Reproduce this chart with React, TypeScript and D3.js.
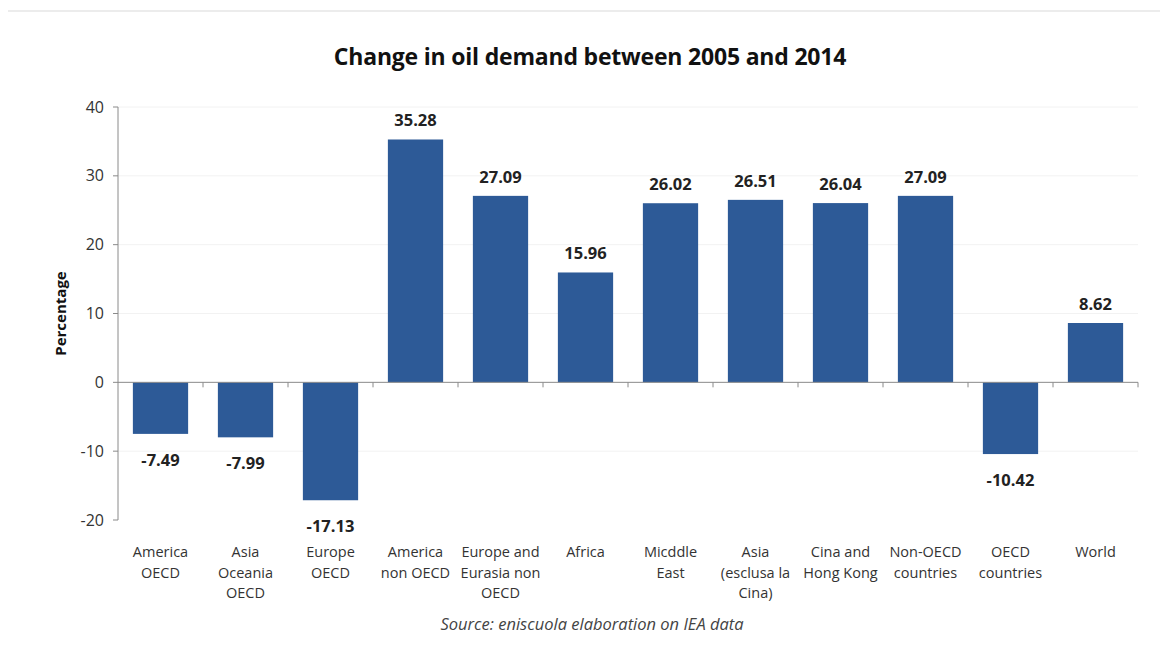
import React from "react";
import * as d3 from "d3";

const categories: string[] = [
  "America\nOECD",
  "Asia\nOceania\nOECD",
  "Europe\nOECD",
  "America\nnon OECD",
  "Europe and\nEurasia non\nOECD",
  "Africa",
  "Micddle\nEast",
  "Asia\n(esclusa la\nCina)",
  "Cina and\nHong Kong",
  "Non-OECD\ncountries",
  "OECD\ncountries",
  "World",
];
const values: number[] = [-7.49, -7.99, -17.13, 35.28, 27.09, 15.96, 26.02, 26.51, 26.04, 27.09, -10.42, 8.62];
const yTicks: number[] = [40, 30, 20, 10, 0, -10, -20];
const title = "Change in oil demand between 2005 and 2014";
const yLabel = "Percentage";
const source = "Source: eniscuola elaboration on IEA data";

const W = 1162;
const H = 657;
const FONT = "'Open Sans', 'Liberation Sans', sans-serif";

export default function App() {
  const x = d3
    .scaleBand<number>()
    .domain(d3.range(categories.length))
    .range([118, 1138])
    .paddingInner(0.35)
    .paddingOuter(0.175);
  const y = d3.scaleLinear().domain([-20, 40]).range([520, 107]);
  const bandStep = x.step();
  const left = 118;

  return (
    <svg
      width={W}
      height={H}
      style={{ position: "absolute", left: 0, top: 0, background: "#fff" }}
      fontFamily={FONT}
    >
      <rect x={0} y={0} width={W} height={H} fill="#fff" />
      <line x1={8} x2={1160} y1={11} y2={11} stroke="#ececec" strokeWidth={2} />
      {/* gridlines */}
      {yTicks.filter((t) => t !== 0 && t !== -20).map((t) => (
        <line key={"g" + t} x1={left} x2={1138} y1={y(t)} y2={y(t)} stroke="#f2f2f2" strokeWidth={1} />
      ))}
      <text x={590} y={65} textAnchor="middle" fontSize={23} fontWeight="bold" fill="#111" letterSpacing={-0.2}>
        {title}
      </text>
      {/* y axis */}
      <line x1={left} x2={left} y1={y(40)} y2={y(-20)} stroke="#8a8a8a" strokeWidth={1} />
      {yTicks.map((t) => (
        <g key={"t" + t}>
          <line x1={left - 5} x2={left} y1={y(t)} y2={y(t)} stroke="#8a8a8a" />
          <text x={left - 14} y={y(t)} dy="0.35em" textAnchor="end" fontSize={16} fill="#333">
            {t}
          </text>
        </g>
      ))}
      <text
        transform={`translate(66, ${(y(40) + y(-20)) / 2}) rotate(-90)`}
        textAnchor="middle"
        fontSize={15}
        fontWeight="bold"
        fill="#111"
      >
        {yLabel}
      </text>
      {/* bars */}
      {values.map((v, i) => (
        <rect
          key={"b" + i}
          x={x(i)!}
          y={Math.min(y(v), y(0))}
          width={x.bandwidth()}
          height={Math.abs(y(v) - y(0))}
          fill="#2d5a97"
        />
      ))}
      {/* zero line */}
      <line x1={left} x2={1138} y1={y(0)} y2={y(0)} stroke="#8a8a8a" strokeWidth={1} />
      {categories.map((_, i) => (
        <line
          key={"zt" + i}
          x1={left + bandStep * (i + 1)}
          x2={left + bandStep * (i + 1)}
          y1={y(0)}
          y2={y(0) + 5}
          stroke="#8a8a8a"
        />
      ))}
      {/* value labels */}
      {values.map((v, i) => (
        <text
          key={"v" + i}
          x={x(i)! + x.bandwidth() / 2}
          y={v >= 0 ? y(v) - 13 : y(v) + 32}
          textAnchor="middle"
          fontSize={16.5}
          fontWeight="bold"
          fill="#222"
        >
          {v.toFixed(2)}
        </text>
      ))}
      {/* category labels */}
      {categories.map((c, i) => (
        <text
          key={"c" + i}
          x={x(i)! + x.bandwidth() / 2}
          y={557}
          textAnchor="middle"
          fontSize={14.5}
          fill="#333"
        >
          {c.split("\n").map((line, j) => (
            <tspan key={j} x={x(i)! + x.bandwidth() / 2} dy={j === 0 ? 0 : 20.5}>
              {line}
            </tspan>
          ))}
        </text>
      ))}
      <text x={592} y={630} textAnchor="middle" fontSize={16.5} fontStyle="italic" fill="#444">
        {source}
      </text>
    </svg>
  );
}
